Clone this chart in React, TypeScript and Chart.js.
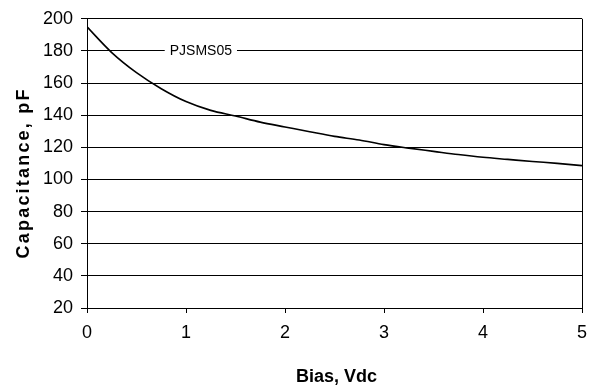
import React, { useEffect, useRef } from "react";
import { Chart, registerables } from "chart.js";

Chart.register(...registerables);

const biasV = [0, 0.25, 0.5, 0.75, 1.0, 1.25, 1.5, 1.75, 2.0, 2.25, 2.5, 2.75, 3.0, 3.25, 3.5, 3.75, 4.0, 4.25, 4.5, 4.75, 5.0];
const capacitancePF = [195, 179, 166.5, 156.5, 148.5, 143, 139.5, 135.7, 132.7, 129.7, 126.8, 124.6, 121.7, 119.5, 117.5, 115.5, 113.8, 112.5, 111.2, 110, 108.6];
const seriesName = "PJSMS05";
const seriesLabelAt = { x: 1.15, y: 180 };
const xTitle = "Bias, Vdc";
const yTitle = "Capacitance, pF";
const yMin = 20, yMax = 200, yStep = 20;
const xMin = 0, xMax = 5, xStep = 1;

const FONT = '"Liberation Sans", Arial, Helvetica, sans-serif';

const annotationsPlugin = {
  id: "annotations",
  afterDraw(chart: any) {
    const { ctx, chartArea, scales } = chart;
    ctx.save();
    // series label on the gridline
    ctx.font = `14px ${FONT}`;
    const lx = scales.x.getPixelForValue(seriesLabelAt.x);
    const ly = scales.y.getPixelForValue(seriesLabelAt.y);
    const w = ctx.measureText(seriesName).width;
    ctx.fillStyle = "#fff";
    ctx.fillRect(lx - w / 2 - 5, ly - 6, w + 10, 12);
    ctx.fillStyle = "#000";
    ctx.textAlign = "center";
    ctx.textBaseline = "middle";
    ctx.fillText(seriesName, lx, ly + 0.5);

    // x title
    ctx.font = `bold 18px ${FONT}`;
    ctx.textAlign = "center";
    ctx.textBaseline = "alphabetic";
    ctx.fillText(xTitle, (chartArea.left + chartArea.right) / 2 + 2, chart.height - 7);

    // y title
    ctx.translate(29, (chartArea.top + chartArea.bottom) / 2 + 9.5);
    ctx.rotate(-Math.PI / 2);
    try { (ctx as any).letterSpacing = "2.2px"; } catch (e) {}
    ctx.fillText(yTitle, 0, 0);
    ctx.restore();
  },
};

export default function App() {
  const ref = useRef<HTMLCanvasElement | null>(null);
  useEffect(() => {
    if (!ref.current) return;
    Chart.defaults.font.family = FONT;
    const chart = new Chart(ref.current, {
      type: "line",
      data: {
        datasets: [
          {
            label: seriesName,
            data: biasV.map((x, i) => ({ x, y: capacitancePF[i] })),
            borderColor: "#000",
            borderWidth: 1.6,
            pointRadius: 0,
            cubicInterpolationMode: "monotone",
            fill: false,
          },
        ],
      },
      options: {
        responsive: false,
        animation: false,
        layout: { padding: { top: 15, right: 15, left: 0, bottom: 0 } },
        plugins: { legend: { display: false }, tooltip: { enabled: false } },
        scales: {
          x: {
            type: "linear",
            min: xMin,
            max: xMax,
            afterFit: (s: any) => { s.height = 81; },
            ticks: { stepSize: xStep, color: "#000", font: { size: 18 }, padding: 9, maxRotation: 0 },
            grid: {
              color: (c: any) => (c.tick && c.tick.value === xMax ? "#000" : "rgba(0,0,0,0)"),
              tickColor: "#000",
              tickLength: 5,
              lineWidth: 1,
            },
            border: { color: "#000", width: 1 },
          },
          y: {
            min: yMin,
            max: yMax,
            afterFit: (s: any) => { s.width = 87; },
            ticks: { stepSize: yStep, color: "#000", font: { size: 18 }, padding: 8 },
            grid: { color: "#000", tickColor: "#000", tickLength: 6, lineWidth: 1 },
            border: { color: "#000", width: 1 },
          },
        },
      },
      plugins: [annotationsPlugin],
    } as any);
    return () => chart.destroy();
  }, []);
  return (
    <div style={{ position: "fixed", left: 0, top: 0, width: 597, height: 389, background: "#fff" }}>
      <canvas ref={ref} width={597} height={389} />
    </div>
  );
}
